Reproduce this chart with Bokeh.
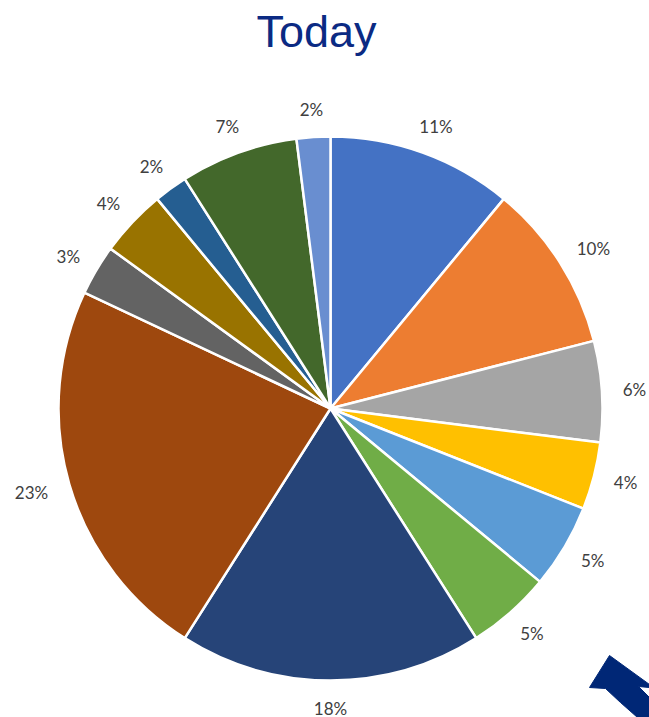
import math
from bokeh.plotting import figure
from bokeh.models import ColumnDataSource, Range1d
from bokeh.core.properties import value
from bokeh.embed import file_html
from bokeh.resources import INLINE

title_text = "Today"
shares = [11, 10, 6, 4, 5, 5, 18, 23, 3, 4, 2, 7, 2]
colors = ["#4472C4", "#ED7D31", "#A5A5A5", "#FFC000", "#5B9BD5", "#70AD47",
          "#264478", "#9E480E", "#636363", "#997300", "#255E91", "#43682B", "#698ED0"]
labels = [f"{v}%" for v in shares]

W, H = 649, 717
cx, cy, R = 330, H - 408, 272
GAP = 19          # gap between pie edge and label box
FS = 17           # label font size, px

total = float(sum(shares))
starts, ends, lx, ly = [], [], [], []
cum = 0.0
for v, lab in zip(shares, labels):
    a0 = math.pi / 2 - 2 * math.pi * cum / total
    cum += v
    a1 = math.pi / 2 - 2 * math.pi * cum / total
    starts.append(a0)
    ends.append(a1)
    mid = (a0 + a1) / 2
    ux, uy = math.cos(mid), math.sin(mid)
    bw = 0.8 * FS * len(lab)   # approx label box width (with padding)
    bh = FS
    # label box placed just outside the slice edge
    lx.append(cx + (R + GAP) * ux + 0.5 * bw * ux)
    ly.append(cy + (R + GAP) * uy + 0.5 * bh * uy)

src = ColumnDataSource(dict(start=starts, end=ends, color=colors,
                            lx=lx, ly=ly, label=labels))

p = figure(width=W, height=H, output_backend="svg", toolbar_location=None,
           x_range=Range1d(0, W), y_range=Range1d(0, H),
           min_border=0, outline_line_color=None)
p.axis.visible = False
p.grid.visible = False
p.background_fill_color = "white"
p.border_fill_color = "white"

p.wedge(x=cx, y=cy, radius=R, start_angle="start", end_angle="end",
        direction="clock", fill_color="color", line_color="white",
        line_width=2.5, source=src)

p.text(x="lx", y="ly", text="label", source=src, text_align="center",
       text_baseline="middle", text_font=value("Lato"), text_font_size=f"{FS}px",
       text_color="#404040")

p.text(x=[316], y=[H - 31], text=[title_text], text_align="center",
       text_baseline="middle", text_font=value("Liberation Sans"),
       text_font_size="45px", text_color="#0B2A83")

# decorative arrow in bottom-right corner (page pixel coords)
arrow_page = [(609, 655), (649, 684), (649, 687), (638, 686), (649, 697),
              (649, 717), (637, 717), (620, 702), (605, 688), (589, 687)]
p.patch(x=[px for px, py in arrow_page], y=[H - py for px, py in arrow_page],
        fill_color="#002776", line_color="#002776")

open("out.html", "w").write(file_html(p, INLINE))
